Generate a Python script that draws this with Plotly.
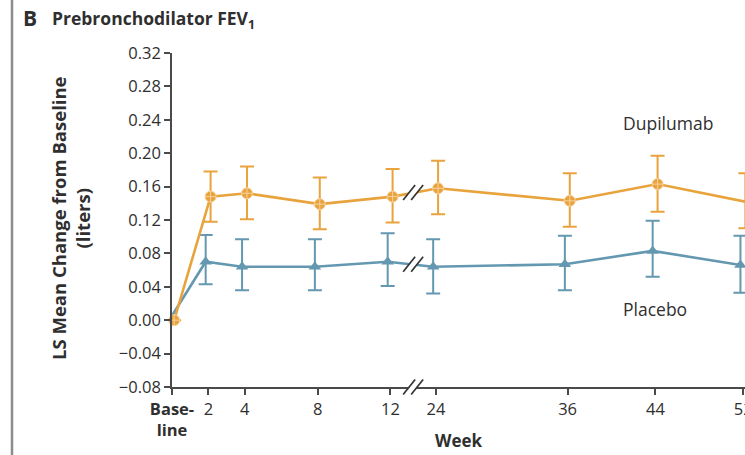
import plotly.graph_objects as go

# Visit schedule and tick labels
weeks = [0, 2, 4, 8, 12, 24, 36, 44, 52]
week_labels = ["<b>Base-<br>line</b>", "2", "4", "8", "12", "24", "36", "44", "52"]

# LS mean change from baseline in prebronchodilator FEV1 (liters) with 95% CI
dupilumab_mean = [0.000, 0.148, 0.152, 0.139, 0.148, 0.158, 0.143, 0.163, 0.142]
dupilumab_upper = [0.000, 0.178, 0.184, 0.171, 0.181, 0.191, 0.176, 0.197, 0.176]
dupilumab_lower = [0.000, 0.118, 0.121, 0.109, 0.117, 0.127, 0.112, 0.130, 0.110]

placebo_mean = [0.000, 0.070, 0.064, 0.064, 0.070, 0.064, 0.067, 0.083, 0.066]
placebo_upper = [0.000, 0.102, 0.097, 0.097, 0.104, 0.097, 0.101, 0.119, 0.101]
placebo_lower = [0.000, 0.043, 0.036, 0.036, 0.041, 0.032, 0.036, 0.052, 0.033]

y_ticks = [-0.08, -0.04, 0.00, 0.04, 0.08, 0.12, 0.16, 0.20, 0.24, 0.28, 0.32]

ORANGE = "#E9A33C"
BLUE = "#6398B0"
AXIS = "#4a4a4a"
TEXT = "#2f2f2f"
FONT = "Open Sans"

# Broken time axis: weeks 0-12 at full scale, weeks 24-52 compressed after a gap
BREAK_START = 12
RESUME = 24
RESUME_POS = 14.5
LATE_SCALE = 0.603


def week_pos(w):
    if w <= BREAK_START:
        return w
    return RESUME_POS + LATE_SCALE * (w - RESUME)


x_pos = [week_pos(w) for w in weeks]
BREAK_X = (week_pos(BREAK_START) + week_pos(RESUME)) / 2

# small horizontal dodge so the two series do not overlap
placebo_x = [p - 0.15 for p in x_pos]
dupilumab_x = [p + 0.12 for p in x_pos]


def err(mean, upper, lower):
    return dict(
        type="data", symmetric=False,
        array=[u - m for u, m in zip(upper, mean)],
        arrayminus=[m - l for m, l in zip(mean, lower)],
        width=7, thickness=2,
    )


fig = go.Figure()
fig.add_trace(go.Scatter(
    x=placebo_x, y=placebo_mean, mode="lines+markers", name="Placebo",
    line=dict(color=BLUE, width=2.6),
    marker=dict(symbol="triangle-up", size=11, color=BLUE),
    error_y=dict(color=BLUE, **err(placebo_mean, placebo_upper, placebo_lower)),
    cliponaxis=False, showlegend=False,
))
fig.add_trace(go.Scatter(
    x=dupilumab_x, y=dupilumab_mean, mode="lines+markers", name="Dupilumab",
    line=dict(color=ORANGE, width=2.6),
    marker=dict(symbol="circle-cross", size=11, color=ORANGE,
                line=dict(color="#F7D29E", width=1)),
    error_y=dict(color=ORANGE, **err(dupilumab_mean, dupilumab_upper, dupilumab_lower)),
    cliponaxis=False, showlegend=False,
))

# page geometry (pixels)
W_PX, H_PX = 745, 455
L, R, T, B = 172, 0, 53, 68
PW, PH = W_PX - L - R, H_PX - T - B


def px_x(px):
    return (px - L) / PW


def px_y(py):
    return (T + PH - py) / PH


def break_mark(xc, yc, yref):
    """White gap with two parallel slashes, sized in pixels around (xc, yc)."""
    common = dict(xref="x", yref=yref, xsizemode="pixel", ysizemode="pixel",
                  xanchor=xc, yanchor=yc, layer="above")
    shapes = [dict(type="path", path="M -10,-7.5 L -2,-7.5 L 10,7.5 L 2,7.5 Z",
                   fillcolor="white", line=dict(width=0), **common)]
    for dx in (-4, 4):
        shapes.append(dict(type="line", x0=dx - 6, y0=-7.5, x1=dx + 6, y1=7.5,
                           line=dict(color="#333333", width=1.7), **common))
    return shapes


shapes = []
shapes += break_mark(BREAK_X, 0, "paper")
i12, i24 = weeks.index(BREAK_START), weeks.index(RESUME)
shapes += break_mark(BREAK_X, (dupilumab_mean[i12] + dupilumab_mean[i24]) / 2, "y")
shapes += break_mark(BREAK_X, (placebo_mean[i12] + placebo_mean[i24]) / 2, "y")
# panel frame line on the left
shapes.append(dict(type="line", xref="paper", yref="paper",
                   x0=px_x(12), x1=px_x(12), y0=px_y(-5), y1=px_y(H_PX + 5),
                   line=dict(color="#8c8c8c", width=2.5), layer="above"))

annotations = [
    dict(text="<b>B</b>", x=px_x(21), y=px_y(18), xref="paper", yref="paper",
         xanchor="left", yanchor="middle", showarrow=False,
         font=dict(family=FONT, size=21, color=TEXT)),
    dict(text="<b>Prebronchodilator FEV<sub>1</sub></b>", x=px_x(50), y=px_y(20),
         xref="paper", yref="paper", xanchor="left", yanchor="middle", showarrow=False,
         font=dict(family=FONT, size=17.5, color=TEXT)),
    dict(text="<b>LS Mean Change from Baseline<br>(liters)</b>", x=px_x(71), y=px_y(218),
         xref="paper", yref="paper", xanchor="center", yanchor="middle",
         textangle=-90, showarrow=False, font=dict(family=FONT, size=18.5, color=TEXT)),
    dict(text="<b>Week</b>", x=px_x(459), y=px_y(440), xref="paper", yref="paper",
         xanchor="center", yanchor="middle", showarrow=False,
         font=dict(family=FONT, size=17, color=TEXT)),
    dict(text="Dupilumab", x=px_x(621), y=px_y(123), xref="paper", yref="paper",
         xanchor="left", yanchor="middle", showarrow=False,
         font=dict(family=FONT, size=17.5, color=TEXT)),
    dict(text="Placebo", x=px_x(621), y=px_y(309), xref="paper", yref="paper",
         xanchor="left", yanchor="middle", showarrow=False,
         font=dict(family=FONT, size=17.5, color=TEXT)),
]

x_right = (W_PX - L) / 18.2
fig.update_layout(
    width=W_PX, height=H_PX,
    margin=dict(l=L, r=R, t=T, b=B, pad=0, autoexpand=False),
    paper_bgcolor="white", plot_bgcolor="white",
    font=dict(family=FONT, color=TEXT),
    shapes=shapes, annotations=annotations,
    xaxis=dict(
        range=[0, x_right], tickmode="array", tickvals=x_pos, ticktext=week_labels,
        showgrid=False, zeroline=False, showline=True, linecolor=AXIS, linewidth=1.5,
        ticks="outside", ticklen=6, tickwidth=1.5, tickcolor=AXIS,
        ticklabeloverflow="allow", automargin=False,
        tickfont=dict(family=FONT, size=16.5, color=TEXT), fixedrange=True,
    ),
    yaxis=dict(
        range=[-0.08, 0.32], tickmode="array", tickvals=y_ticks, tickformat=".2f",
        showgrid=False, zeroline=False, showline=True, linecolor=AXIS, linewidth=1.5,
        ticks="outside", ticklen=6, tickwidth=1.5, tickcolor=AXIS, automargin=False,
        tickfont=dict(family=FONT, size=16.5, color=TEXT), fixedrange=True,
    ),
)

fig.write_html("out.html", config={"displayModeBar": False})
